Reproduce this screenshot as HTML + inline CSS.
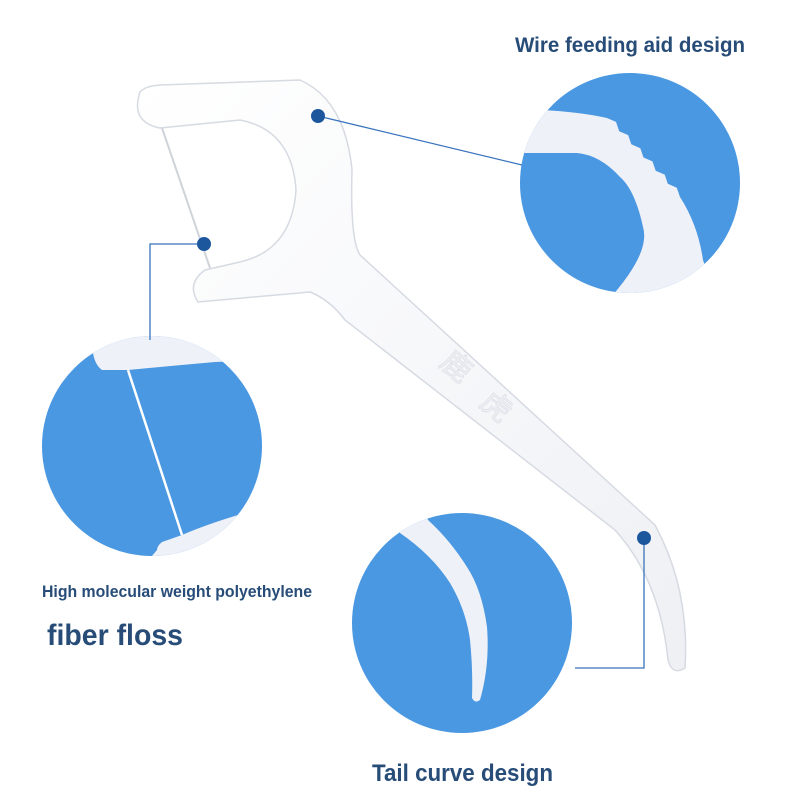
<!DOCTYPE html>
<html><head><meta charset="utf-8"><style>html,body{margin:0;padding:0;background:#fff}svg{display:block}</style></head>
<body>
<svg width="800" height="800" viewBox="0 0 800 800" xmlns="http://www.w3.org/2000/svg">
<defs>
<clipPath id="c1"><circle cx="630" cy="183" r="110"/></clipPath>
<clipPath id="c2"><circle cx="152" cy="446" r="110"/></clipPath>
<clipPath id="c3"><circle cx="462" cy="623" r="110"/></clipPath>
<linearGradient id="g" x1="0" y1="0" x2="1" y2="1"><stop offset="0" stop-color="#ffffff"/><stop offset="1" stop-color="#eef0f4"/></linearGradient>
</defs>
<rect width="800" height="800" fill="#fff"/>
<path d="M140 92 Q130 122 160 128 L240 120 Q292 130 296 190 Q292 250 240 262 L205 270 Q186 284 198 302 L310 292 Q330 300 345 320 L615 530 Q660 580 668 660 Q672 676 685 668 Q690 590 655 525 L360 255 Q350 240 352 170 Q345 100 300 80 L160 85 Q145 86 140 92 Z" fill="url(#g)" stroke="#d6dae2" stroke-width="1.5"/>
<line x1="162" y1="128" x2="210" y2="268" stroke="#cfd3da" stroke-width="2"/>
<text x="440" y="380" font-family="Noto Sans CJK SC, sans-serif" font-size="30" fill="#eef0f4" stroke="#dde1e8" stroke-width="0.8" transform="rotate(40 460 370)">鹿</text>
<text x="480" y="420" font-family="Noto Sans CJK SC, sans-serif" font-size="30" fill="#eef0f4" stroke="#dde1e8" stroke-width="0.8" transform="rotate(40 500 410)">虎</text>

<circle cx="630" cy="183" r="110" fill="#4a97e2"/>
<g clip-path="url(#c1)">
<path d="M500 108 L543 110 Q580 112 607 118 L616 121.9 L619.2 131.2 L628.2 135.1 L631.3 144.3 L640.3 148.2 L643.5 157.5 L652.5 161.4 L655.7 170.7 L664.7 174.6 L667.8 183.8 L676.8 187.7 L680 197 Q698 225 703 260 L720 310 L600 310 L617 290 Q650 250 643 227 Q635 190 620 177 Q600 155 577 153 L500 153 Z" fill="#eef1f7"/>
</g>
<circle cx="152" cy="446" r="110" fill="#4a97e2"/>
<g clip-path="url(#c2)">
<path d="M30 320 L280 320 L280 360 L215 362 Q170 366 128 370 L102 370 Q95 365 93 353 L80 330 Z" fill="#eef1f7"/>
<path d="M140 570 L280 570 L280 505 L238 515 Q205 525 182 535 L162 542 Q157 546 157 550 Z" fill="#eef1f7"/>
<line x1="128" y1="370" x2="182" y2="535" stroke="#fff" stroke-width="2.5"/>
</g>
<circle cx="462" cy="623" r="110" fill="#4a97e2"/>
<g clip-path="url(#c3)">
<path d="M395 500 L400 533 Q432 555 450 583 Q466 610 470 640 Q473 670 472 698 Q475 704 480 700 Q490 665 487 627 Q482 590 467 567 Q450 540 428 520 L420 500 Z" fill="#eef1f7"/>
</g>

<g stroke="#3a74bd" stroke-width="1.3" fill="none">
<line x1="318" y1="116" x2="522" y2="165"/>
<polyline points="204,244 150,244 150,340"/>
<polyline points="644,538 644,668 575,668"/>
</g>
<g fill="#1c579e">
<circle cx="318" cy="116" r="7"/>
<circle cx="204" cy="244" r="7"/>
<circle cx="644" cy="538" r="7"/>
</g>
<g font-family="Liberation Sans, sans-serif" font-weight="bold" fill="#274c78">
<text x="515" y="52" font-size="21" textLength="230" lengthAdjust="spacingAndGlyphs">Wire feeding aid design</text>
<text x="42" y="597" font-size="17" textLength="270" lengthAdjust="spacingAndGlyphs">High molecular weight polyethylene</text>
<text x="47" y="645" font-size="30" textLength="136" lengthAdjust="spacingAndGlyphs">fiber floss</text>
<text x="372" y="781" font-size="24" textLength="181" lengthAdjust="spacingAndGlyphs">Tail curve design</text>
</g>
</svg>
</body></html>
